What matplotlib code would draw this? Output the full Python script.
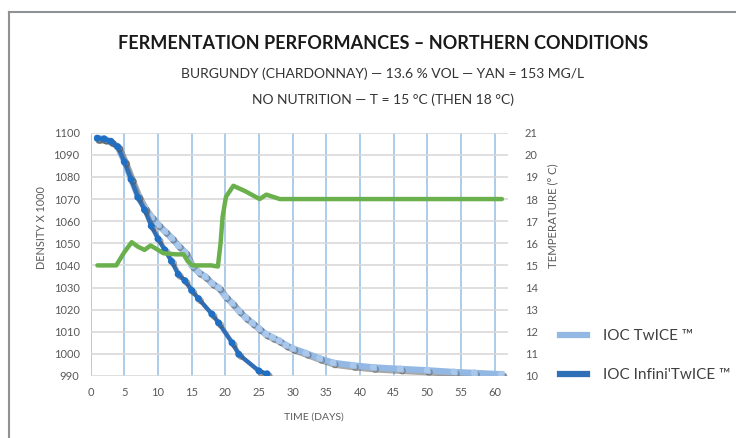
import matplotlib
matplotlib.use("Agg")
import matplotlib.pyplot as plt
import matplotlib.patheffects as pe

plt.rcParams['font.family'] = ['Lato', 'DejaVu Sans']

# IOC TwICE (light blue)
twice_days = [1, 2, 3, 4, 5, 6, 7, 8, 9, 10, 11, 12, 13, 14, 15, 16, 17, 18, 19, 20,
              21, 22, 23, 24, 25, 26, 27, 28, 29, 30, 32, 34, 36, 39, 42, 46, 50, 54, 57, 61]
twice_density = [1097.5, 1097.2, 1096.1, 1093.7, 1087, 1079, 1071.5, 1066, 1062, 1058.5,
                 1055.5, 1052.5, 1049, 1046, 1040, 1037, 1035, 1032, 1030, 1026,
                 1023, 1019.5, 1016.5, 1014, 1011.5, 1009, 1007.5, 1006, 1004, 1002.5,
                 1000.3, 998, 996, 994.8, 993.9, 993.2, 992.6, 991.8, 991.4, 990.8]

# IOC Infini'TwICE (dark blue)
infini_days = [1, 2, 3, 4, 5, 6, 7, 8, 9, 10, 11, 12, 13, 14, 15, 16, 18, 19, 21, 22, 25, 26.2]
infini_density = [1097.5, 1097.2, 1096.1, 1093.7, 1086.8, 1078.9, 1070.8, 1065.1, 1057.8, 1052,
                  1047, 1041.9, 1036, 1033.1, 1028.7, 1025, 1018, 1014, 1005, 999.8, 992.3, 991]

# temperature (green, right axis)
temp_days = [1, 3.8, 5, 6.1, 7, 8, 8.9, 10, 10.8, 12.7, 13.8, 14.4, 15.1, 17.9, 18.9,
             19.3, 19.6, 20.1, 21.2, 23, 25.1, 26.1, 28.1, 61.1]
temp_values = [15, 15, 15.6, 16.05, 15.85, 15.7, 15.9, 15.7, 15.55, 15.5, 15.5, 15.2, 15.0, 15.0, 14.95,
               16.0, 17.2, 18.1, 18.6, 18.35, 18.0, 18.2, 18.0, 18.0]

x_ticks = list(range(0, 61, 5))
y_ticks = list(range(990, 1101, 10))
t_ticks = list(range(10, 22))

fig = plt.figure(figsize=(7.36, 4.38), dpi=100)
ax = fig.add_axes([0.1232, 0.1416, 0.567, 0.5554])
ax2 = ax.twinx()

shadow = [pe.SimpleLineShadow(offset=(1.5, -1.5), shadow_color='#555555', alpha=0.5), pe.Normal()]

ax.plot(twice_days, twice_density, color='#93B8E3', lw=4.5, marker='o', ms=4,
        mfc='#A9C8EC', mec='#A9C8EC', path_effects=shadow, label='IOC TwICE \u2122', zorder=3)
ax.plot(infini_days, infini_density, color='#2E6FB8', lw=3, marker='o', ms=4,
        mfc='#1F6FC4', mec='#1F6FC4', path_effects=shadow, label="IOC Infini'TwICE \u2122", zorder=4)
ax2.plot(temp_days, temp_values, color='#6AB04C', lw=3.2, solid_capstyle='round',
         solid_joinstyle='round', zorder=2)

ax.set_xlim(0, 62)
ax.set_ylim(990, 1100)
ax2.set_ylim(10, 21)
ax.set_xticks(x_ticks)
ax.set_yticks(y_ticks)
ax2.set_yticks(t_ticks)

ax.grid(axis='y', color='#D9D9D9', lw=1.2)
ax.grid(axis='x', color='#9DC3E6', lw=1.2)
ax.set_axisbelow(True)

for a in (ax, ax2):
    for s in a.spines.values():
        s.set_visible(False)
    a.tick_params(length=0, colors='#595959', labelsize=8)
ax.tick_params(axis='y', pad=8)
ax.tick_params(axis='x', pad=8)
ax2.tick_params(axis='y', pad=12)

ax.set_ylabel('DENSITY X 1000', fontsize=7.8, color='#595959')
ax.yaxis.set_label_coords(-0.105, 0.61)
ax2.set_ylabel('TEMPERATURE (\u00b0 C)', fontsize=8.2, color='#595959')
ax2.yaxis.set_label_coords(1.095, 0.657)
ax.set_xlabel('TIME (DAYS)', fontsize=7.5, color='#595959')
ax.xaxis.set_label_coords(0.535, -0.15)

handles, labels = ax.get_legend_handles_labels()
leg = fig.legend(handles, labels, loc='center left', bbox_to_anchor=(0.742, 0.188),
                 frameon=False, fontsize=11, handlelength=1.8, labelspacing=1.6,
                 handletextpad=1.0, labelcolor='#404040')
for h in leg.get_lines():
    h.set_marker('')
    h.set_linewidth(4.5)
    h.set_path_effects([])

fig.text(0.52, 0.90, 'FERMENTATION PERFORMANCES \u2013 NORTHERN CONDITIONS', ha='center',
         va='center', fontsize=13, fontweight='bold', color='#1a1a1a')
fig.text(0.52, 0.831, 'BURGUNDY (CHARDONNAY) \u2014 13.6 % VOL \u2014 YAN = 153 MG/L', ha='center',
         va='center', fontsize=10, color='#333333')
fig.text(0.52, 0.772, 'NO NUTRITION \u2014 T = 15 \u00b0C (THEN 18 \u00b0C)', ha='center',
         va='center', fontsize=10, color='#333333')

# frame around the chart
fig.add_artist(plt.Line2D([8.5 / 736, 8.5 / 736], [0, 1 - 12 / 438], color='#8F9396', lw=1.5))
fig.add_artist(plt.Line2D([8.5 / 736, 1], [1 - 12 / 438, 1 - 12 / 438], color='#8F9396', lw=1.5))

fig.savefig('out.png', dpi=100)
